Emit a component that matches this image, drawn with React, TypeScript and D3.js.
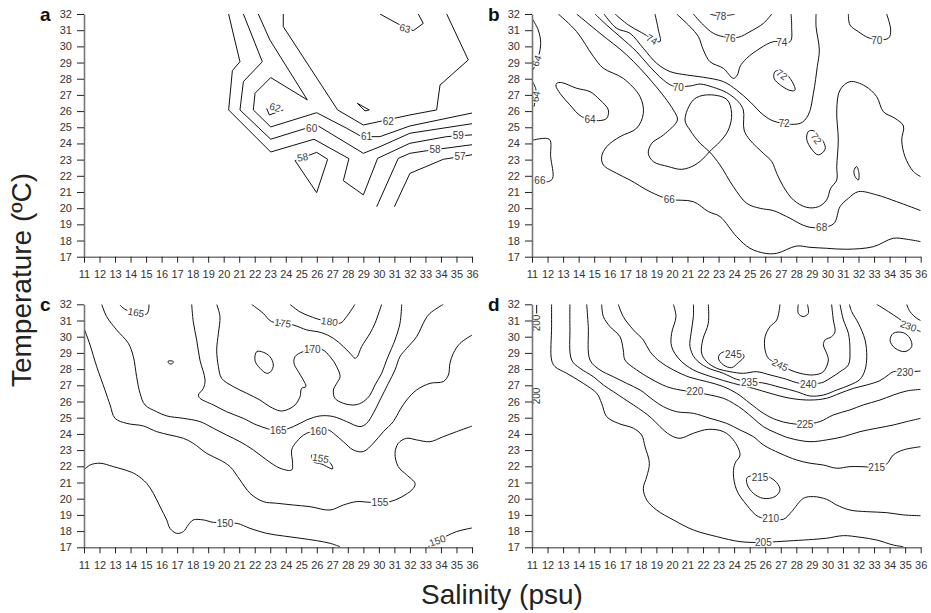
import React, { useEffect, useRef } from "react";
import * as d3 from "d3";

type Pt = [number, number];
type Lab = [string, number, number, number];

const salinityTicks = [11, 12, 13, 14, 15, 16, 17, 18, 19, 20, 21, 22, 23, 24, 25, 26, 27, 28, 29, 30, 31, 32, 33, 34, 35, 36];
const temperatureTicks = [17, 18, 19, 20, 21, 22, 23, 24, 25, 26, 27, 28, 29, 30, 31, 32];

// ---- panel a (salinity, temperature) ----
const aLines: Pt[][] = [
  [[20.32, 32], [20.56, 31.01], [21.05, 29.05], [20.56, 28.5], [20.32, 26.07], [23.03, 23.47], [25.82, 24.26], [28.07, 23.06], [27.71, 21.7], [29.0, 20.82], [29.92, 23.08], [32.0, 24.01], [34.37, 24.42], [35.87, 24.52], [36, 24.53]],
  [[21.27, 32], [22.49, 29.05], [21.27, 27.82], [21.05, 26.07], [23.03, 24.26], [25.99, 25.14], [29.0, 23.39], [30.07, 23.8], [32.0, 24.63], [36, 25.22]],
  [[22.23, 32], [22.98, 30.39], [25.39, 26.69], [23.03, 28.07], [22.02, 27.1], [21.91, 26.07], [23.03, 25.02], [25.99, 25.9], [27.92, 24.94], [28.89, 24.42], [30.07, 24.42], [32.0, 25.08], [36, 25.88]],
  [[23.84, 32], [23.84, 31.22], [27.34, 26.07], [29.0, 25.14], [32.0, 25.76], [33.72, 26.07], [33.94, 27.61], [35.76, 29.16], [34.37, 32]],
  [[29.86, 20.09], [31.25, 23.08], [32.0, 23.39], [33.08, 23.55], [36, 23.92]],
  [[31.0, 20.09], [32.0, 22.15], [34.15, 23.02], [36, 23.3]],
  [[30.07, 32], [31.25, 31.38], [32.22, 30.97], [32.86, 31.42], [32.54, 32]],
  [[22.77, 26.17], [22.94, 25.76], [23.84, 26.07]],
];
const aLoops: Pt[][] = [
  [[24.6, 22.94], [25.99, 20.96], [26.7, 23.02], [25.99, 23.45]],
  [[28.61, 26.48], [29.38, 26.07], [29.11, 26.01]],
];
const aLabels: Lab[] = [
  ["63", 31.68, 31.11, 15], ["62", 23.31, 26.23, 15], ["62", 30.61, 25.35, 0], ["60", 25.67, 24.93, 0],
  ["61", 29.21, 24.42, 0], ["59", 35.12, 24.46, 0], ["58", 33.62, 23.6, 0], ["57", 35.23, 23.18, 0], ["58", 25.09, 23.14, -10],
];

// ---- panel b ----
const bLines: Pt[][] = [
  [[12.69, 32], [13.87, 30.91], [14.95, 29.37], [15.59, 28.65], [16.87, 28.02], [17.95, 26.89], [18.16, 25.86], [17.73, 24.94], [16.66, 24.42], [15.8, 23.8], [15.48, 23.18], [15.59, 22.67], [16.45, 22.15], [17.3, 21.74], [18.59, 21.02], [19.83, 20.55], [21.38, 20.4], [22.34, 19.79], [23.09, 19.48], [24.16, 18.24], [25.02, 17.52], [25.99, 17.21], [26.74, 17.21], [28.02, 17.66], [28.88, 17.58], [29.95, 17.52], [31.24, 17.46], [32.96, 17.62], [34.24, 18.14], [35.1, 18.08], [36, 17.93]],
  [[13.87, 32], [15.37, 30.81], [17.09, 29.47], [18.8, 27.72], [20.09, 26.07], [20.35, 25.45], [19.45, 24.52], [18.7, 24.01], [18.48, 23.39], [18.8, 22.88], [19.77, 22.57], [20.63, 22.4], [21.48, 22.67], [22.13, 23.18], [22.41, 23.49], [23.09, 24.11], [23.63, 24.83], [23.84, 25.86], [23.52, 26.73], [22.23, 27.0], [21.38, 26.69], [20.84, 25.45], [21.16, 24.83], [21.81, 24.01], [22.41, 23.49], [23.09, 22.67], [23.95, 21.33], [24.81, 20.3], [25.67, 19.99], [26.52, 19.85], [27.38, 19.48], [28.88, 18.82], [30.38, 19.02], [30.81, 20.09], [31.35, 20.61], [31.99, 21.02], [33.17, 20.82], [34.46, 20.4], [36, 19.85]],
  [[15.05, 32], [15.8, 31.32], [16.66, 30.6], [17.73, 29.67], [18.48, 28.85], [19.45, 27.92], [20.09, 27.55], [21.16, 27.55], [21.81, 27.67], [22.66, 27.47], [23.52, 27.14], [24.27, 26.58], [24.59, 26.07], [24.64, 24.83], [25.02, 24.21], [25.88, 23.39], [26.42, 22.88], [26.74, 22.15], [27.17, 21.33], [27.81, 20.51], [28.67, 20.05], [29.42, 20.09], [29.95, 20.51], [30.21, 21.23], [30.6, 21.74], [30.6, 22.57], [30.7, 24.21], [30.6, 26.07], [30.81, 27.3], [31.45, 27.82], [32.42, 27.55], [33.17, 26.89], [33.6, 25.96], [34.35, 25.55], [34.89, 25.08], [34.78, 24.21], [34.99, 23.18], [35.53, 22.26], [36, 21.95]],
  [[15.63, 32], [16.45, 31.11], [17.3, 30.81], [18.16, 29.88], [19.02, 28.95], [19.88, 28.44], [20.95, 28.23], [22.02, 28.09], [23.31, 27.82], [24.16, 27.3], [25.02, 26.58], [25.88, 25.76], [26.63, 25.35], [28.24, 25.24], [28.77, 25.76], [29.1, 27.1], [29.35, 28.75], [29.48, 29.78], [29.27, 31.22], [29.27, 32]],
  [[16.34, 32], [17.2, 31.32], [18.05, 30.85], [19.23, 30.29], [19.13, 31.01], [18.91, 32]],
  [[20.31, 32], [21.16, 31.22], [21.7, 30.6], [22.02, 29.78], [22.45, 29.05], [23.31, 28.64], [23.95, 28.02], [24.21, 28.23], [24.38, 28.75], [24.81, 29.26], [25.67, 29.88], [26.52, 30.29], [27.6, 30.29], [27.7, 31.22], [27.66, 32]],
  [[21.38, 32], [22.02, 31.32], [22.66, 30.81], [23.31, 30.6], [24.27, 30.56], [25.02, 30.91], [25.88, 31.42], [26.42, 32]],
  [[22.45, 32], [22.77, 31.92], [23.63, 31.92], [24.06, 32]],
  [[31.35, 32], [31.45, 31.32], [31.99, 30.91], [32.74, 30.5], [33.92, 30.5], [34.07, 31.01], [33.81, 32]],
  [[11, 31.73], [11.4, 31.01], [11.56, 30.19], [11.39, 29.28], [11.06, 28.54]],
  [[11.03, 27.82], [11.26, 27.3], [11.13, 26.27]],
  [[11, 24.19], [12.11, 24.26], [12.2, 23.18], [12.33, 21.85], [12.05, 21.64], [11, 21.7]],
];
const bLoops: Pt[][] = [
  [[26.63, 28.44], [27.06, 28.5], [27.6, 28.02], [27.92, 27.3], [27.66, 27.26], [27.06, 27.55], [26.57, 28.02]],
  [[28.77, 24.73], [29.1, 24.79], [29.74, 24.11], [29.85, 23.64], [29.42, 23.29], [28.99, 23.64], [28.67, 24.26]],
  [[31.88, 22.57], [32.03, 22.15], [31.99, 21.74], [31.78, 21.95], [31.71, 22.32]],
  [[12.59, 27.72], [12.91, 27.76], [13.87, 27.41], [14.73, 27.2], [15.37, 26.69], [15.91, 26.07], [15.8, 25.55], [15.27, 25.41], [14.19, 25.66], [13.44, 26.38], [12.8, 27.1], [12.54, 27.55]],
];
const bLabels: Lab[] = [
  ["66", 19.83, 20.55, 0], ["68", 29.63, 18.82, 0], ["70", 20.41, 27.47, 0], ["72", 27.21, 25.24, 0],
  ["74", 18.7, 30.43, 30], ["74", 27.06, 30.23, 0], ["76", 23.74, 30.5, 0], ["78", 23.14, 31.85, 0],
  ["70", 33.17, 30.35, 0], ["64", 14.73, 25.45, 0], ["72", 27.06, 28.26, 35], ["72", 29.28, 24.3, 55],
  ["66", 11.51, 21.72, 0], ["64", 11.3, 29.1, -70], ["64", 11.25, 26.9, -80],
];

// ---- panel c ----
const cLines: Pt[][] = [
  [[11, 21.77], [11.39, 22.08], [12.03, 22.19], [12.89, 21.98], [13.96, 21.67], [14.39, 21.47], [15.04, 20.95], [15.47, 20.33], [15.9, 19.51], [16.33, 18.69], [16.54, 18.17], [16.97, 17.86], [17.4, 17.97], [17.72, 18.38], [18.04, 18.69], [18.69, 18.69], [19.33, 18.54], [20.84, 18.48], [21.7, 18.17], [22.77, 17.86], [23.84, 17.7], [24.92, 17.56], [25.99, 17.41], [26.85, 17.25], [27.49, 17.04]],
  [[33.19, 17.04], [34.37, 17.7], [35.01, 17.97], [35.87, 18.17], [36, 18.19]],
  [[11, 30.52], [11.39, 29.49], [11.82, 28.15], [12.35, 26.71], [12.68, 25.79], [13.0, 24.96], [13.75, 24.65], [14.82, 24.49], [15.68, 24.14], [16.54, 23.93], [17.4, 23.73], [18.04, 23.42], [18.9, 22.8], [19.76, 22.39], [20.41, 21.98], [21.05, 21.16], [21.7, 20.33], [22.55, 19.82], [23.41, 19.72], [24.49, 19.61], [25.56, 19.51], [26.85, 19.3], [27.71, 19.61], [28.57, 19.82], [29.43, 19.78], [30.72, 19.82], [31.68, 20.23], [32.22, 20.64], [32.33, 20.95], [31.79, 21.47], [31.25, 21.98], [31.04, 22.8], [31.25, 23.42], [31.79, 23.73], [32.43, 23.63], [33.29, 23.52], [34.15, 23.83], [35.01, 24.14], [36, 24.48]],
  [[12.14, 32], [12.46, 31.24], [13.1, 30.42], [13.86, 29.59], [14.18, 28.77], [14.39, 27.53], [14.61, 26.51], [14.93, 25.79], [15.68, 25.37], [16.33, 25.11], [17.4, 24.96], [18.47, 24.76], [19.33, 24.35], [20.19, 23.93], [21.05, 23.52], [21.91, 23.01], [22.77, 22.39], [23.63, 21.88], [24.38, 21.77], [24.44, 22.19], [24.38, 23.01], [24.7, 23.52], [25.35, 24.04], [26.74, 24.24], [27.07, 24.04], [27.71, 23.52], [28.35, 23.01], [29.0, 22.91], [29.64, 23.42], [30.29, 24.14], [30.93, 24.76], [31.36, 25.48], [31.79, 26.09], [32.43, 26.71], [33.29, 27.12], [34.15, 27.23], [34.48, 27.64], [34.58, 28.36], [34.8, 28.98], [35.23, 29.59], [36, 30.1]],
  [[17.94, 32], [18.04, 30.93], [18.26, 29.8], [18.47, 28.56], [18.8, 27.33], [18.69, 26.81], [18.37, 26.4], [18.47, 26.2], [19.33, 25.79], [20.19, 25.37], [21.27, 24.96], [22.13, 24.55], [23.52, 24.2], [24.49, 24.45], [25.35, 24.86], [26.21, 25.11], [27.07, 25.07], [27.92, 24.76], [28.78, 24.45], [29.21, 24.65], [29.64, 25.27], [30.07, 26.09], [30.61, 27.12], [31.04, 27.95], [31.36, 28.77], [31.79, 29.28], [32.43, 30.0], [32.97, 31.03], [33.29, 31.44], [34.15, 32]],
  [[19.55, 32], [19.76, 31.24], [19.66, 30.21], [19.55, 29.18], [19.66, 28.15], [19.87, 27.43], [20.62, 26.92], [21.48, 26.51], [22.34, 26.09], [22.98, 25.68], [23.63, 25.42], [24.06, 25.48], [24.6, 25.79], [24.92, 26.3], [25.02, 26.81], [25.3, 26.92], [25.13, 27.33], [24.81, 27.84], [24.53, 28.36], [24.6, 28.77], [25.13, 29.08], [26.31, 29.22], [26.85, 28.77], [27.28, 28.15], [27.5, 27.53], [27.28, 27.12], [27.07, 26.71], [27.17, 26.2], [27.71, 25.89], [28.46, 25.79], [29.0, 25.99], [29.43, 26.4], [29.75, 27.02], [30.18, 27.74], [30.5, 28.56], [30.82, 29.28], [31.04, 29.8], [31.36, 30.83], [31.47, 32]],
  [[21.8, 32], [22.55, 31.44], [23.09, 30.93], [24.49, 30.72], [25.35, 30.42], [26.31, 30.25], [27.07, 29.9], [27.71, 29.39], [28.14, 28.98], [28.46, 28.67], [28.61, 28.77], [28.89, 29.39], [29.43, 30.21], [29.75, 30.83], [30.18, 32]],
  [[24.27, 32], [24.92, 31.53], [25.56, 31.26], [26.21, 31.05], [27.49, 30.83], [27.92, 31.24], [28.46, 32]],
  [[13.32, 31.96], [13.64, 31.69], [15.04, 31.4], [15.19, 32]],
];
const cLoops: Pt[][] = [
  [[22.13, 29.08], [22.55, 29.04], [22.98, 28.77], [23.2, 28.26], [23.03, 27.84], [22.77, 27.74], [22.34, 28.05], [22.02, 28.52]],
  [[16.43, 28.5], [16.76, 28.46], [16.65, 28.32], [16.46, 28.36]],
  [[25.67, 22.7], [25.78, 22.29], [26.31, 22.14], [27.02, 21.84], [26.96, 22.08], [26.53, 22.49], [25.99, 22.7]],
];
const cLabels: Lab[] = [
  ["150", 20.09, 18.48, 0], ["150", 33.77, 17.41, -20], ["155", 30.07, 19.78, 0], ["160", 26.1, 24.14, 0],
  ["165", 23.52, 24.2, 0], ["170", 25.71, 29.18, 0], ["175", 23.8, 30.83, 8], ["180", 26.81, 30.93, 8],
  ["165", 14.35, 31.49, 10], ["155", 26.25, 22.49, 10],
];

// ---- panel d ----
const dLines: Pt[][] = [
  [[12.26, 32], [12.26, 30.62], [12.26, 28.56], [12.48, 28.15], [13.23, 27.74], [14.3, 27.12], [15.16, 26.51], [15.48, 25.89], [15.8, 25.07], [16.55, 24.65], [17.52, 24.35], [18.05, 23.93], [18.27, 23.21], [18.55, 22.19], [18.38, 21.36], [18.16, 20.64], [18.38, 19.92], [19.02, 19.3], [20.09, 18.69], [21.38, 18.07], [22.88, 17.66], [24.38, 17.35], [25.88, 17.3], [26.74, 17.35], [27.81, 17.41], [29.1, 17.49], [29.95, 17.56], [31.03, 17.72], [32.1, 17.62], [33.17, 17.45], [34.24, 17.14], [34.88, 17.04]],
  [[13.44, 32], [13.44, 30.62], [13.55, 28.56], [14.09, 28.05], [14.95, 27.53], [15.59, 27.02], [16.23, 26.61], [16.87, 26.2], [17.52, 25.79], [18.16, 25.37], [18.7, 24.96], [19.23, 24.45], [19.88, 23.93], [20.52, 23.73], [21.38, 24.04], [22.34, 24.28], [23.31, 24.14], [23.95, 23.63], [24.38, 22.7], [24.06, 22.19], [23.95, 21.57], [24.16, 20.54], [24.81, 19.61], [25.56, 18.89], [26.35, 18.79], [27.17, 18.73], [27.7, 19.2], [28.45, 20.02], [29.1, 20.13], [29.95, 19.96], [30.6, 19.61], [31.45, 19.3], [32.53, 19.2], [33.81, 19.14], [34.88, 19.0], [36, 18.95]],
  [[14.52, 32], [14.62, 30.62], [14.73, 28.56], [15.37, 27.95], [16.23, 27.53], [17.09, 27.12], [17.95, 26.71], [18.8, 26.09], [19.45, 25.68], [20.31, 25.37], [21.38, 25.27], [22.45, 24.96], [23.52, 24.65], [24.38, 24.24], [25.24, 23.83], [25.88, 23.32], [26.95, 22.8], [28.02, 22.39], [28.88, 22.19], [29.74, 22.08], [30.6, 21.88], [31.45, 21.98], [32.1, 21.98], [33.17, 21.96], [33.81, 22.14], [34.24, 22.7], [34.88, 23.01], [36, 23.21]],
  [[15.48, 32], [15.59, 31.24], [16.02, 30.62], [16.66, 30.0], [16.87, 29.18], [16.98, 28.56], [17.73, 27.95], [18.59, 27.43], [19.66, 26.92], [20.52, 26.71], [21.48, 26.58], [22.45, 26.4], [23.31, 26.2], [23.95, 25.89], [24.59, 25.48], [25.24, 24.96], [25.88, 24.45], [26.74, 24.04], [27.6, 23.73], [28.88, 23.52], [29.95, 23.63], [31.03, 23.83], [32.1, 24.14], [33.17, 24.35], [34.24, 24.55], [35.1, 24.76], [36, 24.96]],
  [[16.55, 32], [16.87, 31.24], [17.52, 30.42], [18.16, 29.8], [18.59, 29.08], [19.23, 28.46], [20.09, 27.95], [21.16, 27.49], [22.23, 27.23], [23.31, 26.92], [24.16, 26.51], [25.02, 25.89], [25.88, 25.27], [26.74, 24.86], [27.6, 24.65], [28.56, 24.6], [29.52, 24.76], [30.38, 25.17], [31.45, 25.48], [32.31, 25.79], [33.38, 26.09], [34.24, 26.4], [35.1, 26.65], [36, 26.75]],
  [[20.09, 32], [20.26, 31.24], [19.98, 30.21], [19.98, 29.39], [20.52, 28.56], [21.38, 27.95], [22.66, 27.49], [23.95, 27.12], [25.24, 26.81], [26.31, 26.51], [27.6, 26.2], [28.88, 26.09], [29.95, 26.2], [30.81, 26.51], [31.67, 26.81], [32.53, 27.02], [33.38, 27.29], [33.92, 27.64], [34.24, 27.84], [34.99, 27.82], [36, 27.88]],
  [[21.38, 32], [21.38, 31.24], [21.23, 30.21], [21.16, 29.39], [21.48, 28.67], [22.23, 28.11], [23.31, 27.74], [24.16, 27.37], [24.98, 27.2], [25.77, 27.16], [26.95, 26.88], [28.02, 26.61], [28.88, 26.34], [29.74, 26.4], [30.6, 26.71], [31.45, 27.02], [32.1, 27.37], [32.42, 27.95], [32.53, 28.77], [32.42, 29.8], [31.99, 30.83], [31.56, 31.55], [31.41, 32]],
  [[22.34, 32], [22.34, 30.83], [21.98, 29.8], [21.91, 28.98], [22.23, 28.46], [22.88, 28.05], [23.74, 27.84], [24.59, 27.74], [25.45, 27.84], [26.31, 27.64], [27.38, 27.37], [28.02, 27.16], [28.77, 27.1], [29.63, 27.16], [30.17, 27.43], [30.81, 27.84], [31.35, 28.26], [31.45, 29.18], [31.35, 30.21], [31.03, 31.03], [30.81, 32]],
  [[26.95, 32], [26.74, 31.03], [26.31, 30.62], [25.99, 30.0], [25.99, 29.18], [26.2, 28.67], [26.52, 28.46], [27.6, 27.95], [28.24, 27.74], [29.1, 27.64], [29.74, 27.84], [30.06, 28.56], [29.95, 28.98], [29.74, 29.49], [29.85, 29.8], [30.27, 30.0], [30.49, 30.31], [30.38, 31.03], [30.27, 32]],
  [[28.13, 32], [28.13, 31.44], [28.45, 31.24], [28.77, 31.44], [28.71, 32]],
  [[33.17, 32], [33.92, 31.55], [34.56, 31.14], [35.21, 30.7], [35.85, 30.37], [36, 30.31]],
  [[35.1, 32], [35.31, 31.55], [35.74, 31.14], [36, 31.0]],
  [[11.3, 31.96], [11.3, 31.34]],
];
const dLoops: Pt[][] = [
  [[24.92, 21.36], [25.56, 21.47], [26.2, 21.36], [26.74, 20.99], [26.95, 20.54], [26.63, 20.13], [25.88, 20.02], [25.24, 20.33], [24.85, 20.85], [24.81, 21.26]],
  [[23.2, 29.02], [22.99, 28.67], [23.31, 28.26], [23.84, 28.09], [24.27, 28.4], [24.64, 28.77], [24.49, 28.98]],
  [[34.24, 30.21], [34.88, 30.25], [35.31, 29.9], [35.42, 29.39], [34.99, 29.08], [34.35, 29.29], [34.03, 29.76]],
];
const dLabels: Lab[] = [
  ["205", 25.88, 17.29, 0], ["210", 26.35, 18.79, 0], ["215", 33.17, 21.94, 0], ["215", 25.67, 21.28, 0],
  ["220", 21.48, 26.61, 0], ["225", 28.56, 24.55, 0], ["230", 34.99, 27.8, 0], ["235", 24.98, 27.16, 0],
  ["240", 28.77, 27.06, 0], ["245", 26.95, 28.26, 25], ["245", 23.95, 28.91, 0], ["230", 35.21, 30.66, 20],
  ["200", 11.3, 30.85, -90], ["200", 11.3, 26.34, -90],
];

const panels = [
  { letter: "a", x0: 84, x1: 472, y0: 14, y1: 256.7, smooth: false, lines: aLines, loops: aLoops, labels: aLabels },
  { letter: "b", x0: 532, x1: 920.7, y0: 14, y1: 256.7, smooth: true, lines: bLines, loops: bLoops, labels: bLabels },
  { letter: "c", x0: 84, x1: 472, y0: 304.3, y1: 547.3, smooth: true, lines: cLines, loops: cLoops, labels: cLabels },
  { letter: "d", x0: 532, x1: 920.7, y0: 304.3, y1: 547.3, smooth: true, lines: dLines, loops: dLoops, labels: dLabels },
];

const FONT = "'Liberation Sans', Arial, Helvetica, sans-serif";

const App = () => {
  const ref = useRef<SVGSVGElement>(null);

  useEffect(() => {
    const svg = d3.select(ref.current);
    svg.selectAll("*").remove();

    panels.forEach((p, i) => {
      const x = d3.scaleLinear().domain([11, 36]).range([p.x0, p.x1]);
      const y = d3.scaleLinear().domain([17, 32]).range([p.y1, p.y0]);
      const g = svg.append("g");

      g.append("clipPath")
        .attr("id", "clip" + i)
        .append("rect")
        .attr("x", p.x0)
        .attr("y", p.y0)
        .attr("width", p.x1 - p.x0)
        .attr("height", p.y1 - p.y0);

      const line = d3
        .line<Pt>()
        .x((d) => x(d[0]))
        .y((d) => y(d[1]))
        .curve(p.smooth ? d3.curveCatmullRom.alpha(0.5) : d3.curveLinear);
      const loop = d3
        .line<Pt>()
        .x((d) => x(d[0]))
        .y((d) => y(d[1]))
        .curve(p.smooth ? d3.curveCatmullRomClosed.alpha(0.5) : d3.curveLinearClosed);

      const c = g.append("g").attr("clip-path", "url(#clip" + i + ")");
      c.selectAll(".ln")
        .data(p.lines)
        .enter()
        .append("path")
        .attr("d", (d) => line(d))
        .attr("fill", "none")
        .attr("stroke", "#111")
        .attr("stroke-width", 1);
      c.selectAll(".lp")
        .data(p.loops)
        .enter()
        .append("path")
        .attr("d", (d) => loop(d))
        .attr("fill", "none")
        .attr("stroke", "#111")
        .attr("stroke-width", 1);

      // contour labels, with a white halo that breaks the line
      g.append("g")
        .selectAll("text")
        .data(p.labels)
        .enter()
        .append("text")
        .attr("transform", (d) => `translate(${x(d[1])},${y(d[2])}) rotate(${d[3]})`)
        .attr("text-anchor", "middle")
        .attr("dy", "0.35em")
        .attr("font-family", FONT)
        .attr("font-size", 10)
        .attr("fill", "#3a3a3a")
        .attr("stroke", "#fff")
        .attr("stroke-width", 3)
        .attr("paint-order", "stroke")
        .text((d) => d[0]);

      const yAxis = g
        .append("g")
        .attr("transform", `translate(${p.x0},0)`)
        .call(d3.axisLeft(y).tickValues(temperatureTicks).tickSize(7).tickSizeOuter(0).tickPadding(5));
      const xAxis = g
        .append("g")
        .attr("transform", `translate(0,${p.y1})`)
        .call(d3.axisBottom(x).tickValues(salinityTicks).tickSize(6).tickSizeOuter(0).tickPadding(8));
      [yAxis, xAxis].forEach((ax) => {
        ax.select(".domain").attr("stroke", "#777").attr("stroke-width", 1.6);
        ax.selectAll(".tick line").attr("stroke", "#222");
        ax.selectAll(".tick text")
          .attr("font-family", FONT)
          .attr("font-size", 11)
          .attr("fill", "#333");
      });

      g.append("text")
        .attr("x", p.x0 - 44)
        .attr("y", p.y0 + 7)
        .attr("font-family", FONT)
        .attr("font-weight", "bold")
        .attr("font-size", 19)
        .attr("fill", "#111")
        .text(p.letter);
    });

    svg
      .append("text")
      .attr("transform", "translate(31,280) rotate(-90)")
      .attr("text-anchor", "middle")
      .attr("font-family", FONT)
      .attr("font-size", 28)
      .attr("fill", "#222")
      .text("Temperature (ºC)");

    svg
      .append("text")
      .attr("x", 502)
      .attr("y", 604)
      .attr("text-anchor", "middle")
      .attr("font-family", FONT)
      .attr("font-size", 28)
      .attr("fill", "#222")
      .text("Salinity (psu)");
  }, []);

  return (
    <svg
      ref={ref}
      width={931}
      height={613}
      style={{ position: "absolute", left: 0, top: 0, background: "#fff" }}
    />
  );
};

export default App;
